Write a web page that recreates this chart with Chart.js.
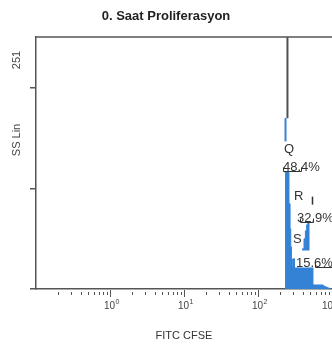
<!DOCTYPE html>
<html>
<head>
<meta charset="utf-8">
<style>
  html, body { margin: 0; padding: 0; overflow: hidden; background: #fff; }
  #wrap { width: 378px; height: 347px; }
</style>
<script src="https://cdn.jsdelivr.net/npm/chart.js@4.4.1/dist/chart.umd.min.js"></script>
</head>
<body>
<div id="wrap"><canvas id="histo" width="378" height="347"></canvas></div>
<script>
// FITC CFSE histogram: left bin edge -> count (drawn as steps)
const binEdges  = [232, 239, 262, 271, 277, 283, 290, 297, 400, 419, 437, 455, 472, 489, 553, 756, 800, 860, 920, 970];
const binCounts = [116, 170, 116,  85,  60,  42,  30,  22,  30,  40,  50,  58,  64,  66,  22,   4,   3,   2,   1,   0];

// off-scale part of the tall bin
const spikeX = [250, 250];
const spikeY = [170, 290];

// linear gates
const gateNames    = ['Q', 'R', 'S'];
const gatePercents = ['48.4%', '32.9%', '15.6%'];
const gateFrom     = [218, 370, 589];
const gateTo       = [381, 553, 1000];
const gateLevel    = [118, 67, 22];

// axes
const yMax = 251;
const yTicks = [0, 100, 200];
const decadeValues = [1, 10, 100, 1000];
const decadeBase = '10';
const decadeExps = ['0', '1', '2', '3'];

// where the gate captions sit (x in channel units, y in counts)
const pctAnchorX    = [218, 337, 326];
const letterAnchorX = [225, 306, 297];
const letterAnchorY = [139, 92, 49];

const FONT = "'Liberation Sans', Arial, sans-serif";
const AXIS = '#555';
Chart.defaults.font.family = FONT;

const minorTicks = [];
[0.1, 1, 10, 100].forEach(d => { for (let m = 2; m <= 9; m++) minorTicks.push(m * d); });

const overlay = {
  id: 'overlay',
  afterDatasetsDraw(chart) {
    const { ctx, scales: { x, y } } = chart;
    ctx.save();
    ctx.font = '13px ' + FONT;
    gateNames.forEach((name, i) => {
      const lvl = Math.round(y.getPixelForValue(gateLevel[i])) + 0.5;
      const tx = x.getPixelForValue(pctAnchorX[i]);
      const w = ctx.measureText(gatePercents[i]).width;
      const lx = x.getPixelForValue(letterAnchorX[i]);
      const ly = y.getPixelForValue(letterAnchorY[i]);
      const lw = ctx.measureText(name).width;

      ctx.fillStyle = '#fff';
      ctx.fillRect(tx - 1, lvl - 17, w + 3, 17);
      ctx.fillRect(lx - 1, ly - 8, lw + 2, 16);

      ctx.fillStyle = '#333';
      ctx.textBaseline = 'alphabetic';
      ctx.fillText(gatePercents[i], tx, lvl - 1);
      ctx.textBaseline = 'middle';
      ctx.fillText(name, lx, ly);

      const x0 = Math.round(x.getPixelForValue(gateFrom[i])) + 0.5;
      const x1 = Math.round(x.getPixelForValue(gateTo[i])) + 0.5;
      ctx.strokeStyle = '#333';
      ctx.lineWidth = 1;
      ctx.beginPath();
      ctx.moveTo(x0, lvl - 4); ctx.lineTo(x0, lvl); ctx.lineTo(x1, lvl); ctx.lineTo(x1, lvl - 4);
      ctx.stroke();
    });
    // edge mark above gate R
    const mx = Math.round(x.getPixelForValue(537)) + 0.5;
    ctx.lineWidth = 1.5;
    ctx.beginPath();
    ctx.moveTo(mx, y.getPixelForValue(92)); ctx.lineTo(mx, y.getPixelForValue(84));
    ctx.stroke();
    ctx.restore();
  },
  afterDraw(chart) {
    const { ctx, chartArea: a, scales: { x } } = chart;
    ctx.save();
    // frame top
    ctx.strokeStyle = AXIS;
    ctx.lineWidth = 1.5;
    ctx.beginPath(); ctx.moveTo(a.left, a.top); ctx.lineTo(a.right, a.top); ctx.stroke();

    // log ticks below the x axis
    ctx.lineWidth = 1;
    ctx.beginPath();
    minorTicks.forEach(v => {
      const px = Math.round(x.getPixelForValue(v)) + 0.5;
      ctx.moveTo(px, a.bottom + 3); ctx.lineTo(px, a.bottom + 6);
    });
    decadeValues.forEach(v => {
      const px = Math.round(x.getPixelForValue(v)) + 0.5;
      ctx.moveTo(px, a.bottom + 1); ctx.lineTo(px, a.bottom + 8);
    });
    ctx.stroke();

    // decade labels with raised exponent, last one kept inside the frame
    ctx.fillStyle = '#444';
    ctx.textBaseline = 'alphabetic';
    ctx.textAlign = 'left';
    decadeValues.forEach((v, i) => {
      const px = Math.min(x.getPixelForValue(v) - 6, a.right - 10);
      ctx.font = '10px ' + FONT;
      ctx.fillText(decadeBase, px, a.bottom + 20);
      const bw = ctx.measureText(decadeBase).width;
      ctx.font = '7px ' + FONT;
      ctx.fillText(decadeExps[i], px + bw + 0.5, a.bottom + 15);
    });

    // rotated y captions
    ctx.font = '11px ' + FONT;
    ctx.textAlign = 'center';
    ctx.textBaseline = 'middle';
    [['251', a.top + 23], ['SS Lin', a.top + 103]].forEach(([t, cy]) => {
      ctx.save();
      ctx.translate(17, cy);
      ctx.rotate(-Math.PI / 2);
      ctx.fillText(t, 0, 0);
      ctx.restore();
    });
    ctx.restore();
  }
};

new Chart(document.getElementById('histo'), {
  type: 'line',
  data: {
    datasets: [
      {
        label: 'FITC CFSE',
        data: binEdges.map((e, i) => ({ x: e, y: binCounts[i] })),
        stepped: 'after',
        fill: 'origin',
        backgroundColor: '#3382d6',
        borderColor: '#3382d6',
        borderWidth: 1,
        pointRadius: 0
      },
      {
        label: 'overflow',
        data: spikeX.map((v, i) => ({ x: v, y: spikeY[i] })),
        borderColor: '#4b505a',
        borderWidth: 2,
        pointRadius: 0,
        fill: false
      }
    ]
  },
  options: {
    responsive: false,
    animation: false,
    layout: { padding: { right: 46 } },
    plugins: {
      legend: { display: false },
      tooltip: { enabled: false },
      title: {
        display: true,
        text: '0. Saat Proliferasyon',
        color: '#222',
        font: { size: 13, weight: 'bold' },
        padding: { top: 9, bottom: 12.4 }
      }
    },
    scales: {
      x: {
        type: 'logarithmic',
        min: 0.1,
        max: 1000,
        afterBuildTicks: s => { s.ticks = decadeValues.map(v => ({ value: v, major: true })); },
        afterFit: s => { s.height = 58; },
        ticks: { display: false },
        grid: { display: false, drawTicks: false },
        border: { color: AXIS, width: 1.5 },
        title: {
          display: true,
          text: 'FITC CFSE',
          color: '#333',
          font: { size: 11 },
          padding: { top: 0, bottom: 4 }
        }
      },
      y: {
        min: 0,
        max: yMax,
        afterBuildTicks: s => { s.ticks = yTicks.map(v => ({ value: v })); },
        afterFit: s => { s.width = 36; },
        ticks: { display: false },
        grid: { drawOnChartArea: false, drawTicks: true, tickLength: 6, color: AXIS, lineWidth: 1.5 },
        border: { color: AXIS, width: 1.5 }
      }
    }
  },
  plugins: [overlay]
});
</script>
</body>
</html>
